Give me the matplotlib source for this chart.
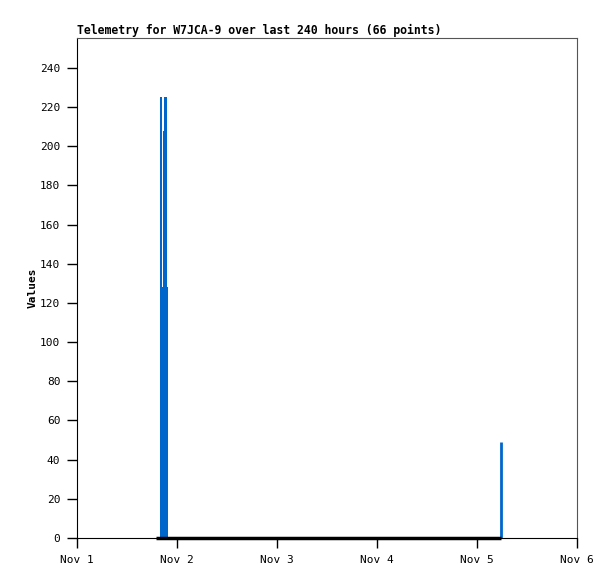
import numpy as np
import matplotlib
matplotlib.use('Agg')
import matplotlib.pyplot as plt

# days since Nov 1 00:00
burst_t = [0.830, 0.847, 0.860, 0.870, 0.900, 0.910]
burst_v = [225, 128, 208, 225, 128]
spike_t = [4.24]
spike_v = [49]
zero_t = [0.79, 1.5, 2.5, 3.5, 4.24]
zero_v = [0, 0, 0, 0, 0]

day_ticks = [0, 1, 2, 3, 4, 5]
day_labels = ['Nov 1', 'Nov 2', 'Nov 3', 'Nov 4', 'Nov 5', 'Nov 6']
y_ticks = list(range(0, 241, 20))

plt.rcParams['font.family'] = ['DejaVu Sans Mono']

fig = plt.figure(figsize=(6.15, 5.79), dpi=100)
ax = fig.add_axes([77/615, 1 - 538/579, 500/615, 500/579])

blue = '#0066cc'
# step fill for the burst of readings
ax.stairs(burst_v, burst_t, fill=True, color=blue, linewidth=0)
ax.vlines(spike_t, 0, spike_v, color=blue, linewidth=2)
ax.plot(zero_t, zero_v, color='black', linewidth=2.5, solid_capstyle='butt',
        clip_on=False, zorder=3)

ax.set_xlim(0, 5)
ax.set_ylim(0, 255.3)
ax.set_xticks(day_ticks)
ax.set_xticklabels(day_labels, fontsize=8)
ax.set_yticks(y_ticks)
ax.set_yticklabels([str(v) for v in y_ticks], fontsize=8)
ax.tick_params(direction='out', length=7, width=1, color='black', pad=5)

for s in ['top', 'right']:
    ax.spines[s].set_color('#555555')
for s in ['left', 'bottom']:
    ax.spines[s].set_color('black')

ax.set_ylabel('Values', fontsize=8, fontweight='bold', labelpad=2)
ax.set_title('Telemetry for W7JCA-9 over last 240 hours (66 points)',
             loc='left', fontsize=8.3, fontweight='bold', pad=3)

fig.savefig('out.png', dpi=100)
